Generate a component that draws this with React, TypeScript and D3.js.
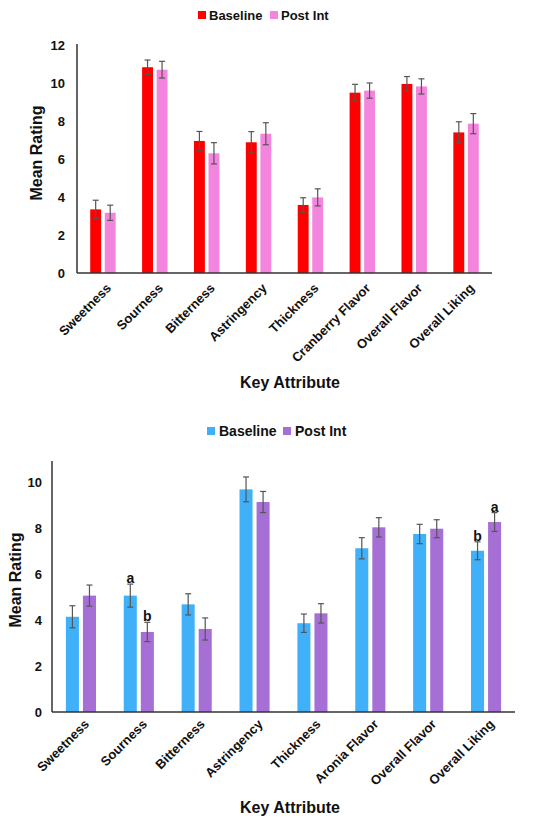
import * as d3 from "d3";

const topCategories = [
  "Sweetness",
  "Sourness",
  "Bitterness",
  "Astringency",
  "Thickness",
  "Cranberry Flavor",
  "Overall Flavor",
  "Overall Liking",
];
const topBaseline = [3.35, 10.83, 6.95, 6.88, 3.58, 9.49, 9.95, 7.4];
const topBaselineErr = [0.48, 0.38, 0.5, 0.56, 0.38, 0.44, 0.39, 0.56];
const topPost = [3.17, 10.7, 6.3, 7.33, 3.98, 9.6, 9.82, 7.86];
const topPostErr = [0.4, 0.44, 0.56, 0.58, 0.45, 0.4, 0.4, 0.53];
const topTicks = [0, 2, 4, 6, 8, 10, 12];

const bottomCategories = [
  "Sweetness",
  "Sourness",
  "Bitterness",
  "Astringency",
  "Thickness",
  "Aronia Flavor",
  "Overall Flavor",
  "Overall Liking",
];
const bottomBaseline = [4.14, 5.06, 4.68, 9.68, 3.86, 7.12, 7.74, 7.01];
const bottomBaselineErr = [0.48, 0.5, 0.46, 0.54, 0.4, 0.46, 0.42, 0.39];
const bottomPost = [5.06, 3.48, 3.61, 9.13, 4.29, 8.03, 7.97, 8.26];
const bottomPostErr = [0.46, 0.42, 0.48, 0.46, 0.42, 0.42, 0.39, 0.41];
const bottomBaselineLetters = ["", "a", "", "", "", "", "", "b"];
const bottomPostLetters = ["", "b", "", "", "", "", "", "a"];
const bottomTicks = [0, 2, 4, 6, 8, 10];

const seriesNames = ["Baseline", "Post Int"];

const FONT = "'Liberation Sans', Arial, Helvetica, sans-serif";

type PanelProps = {
  categories: string[];
  values: number[][];
  errors: number[][];
  letters?: string[][];
  colors: string[];
  ticks: number[];
  yMax: number;
  left: number;
  right: number;
  top: number;
  bottom: number;
  padding: number;
  innerPadding: number;
  tickLabelX: number;
  titleX: number;
  titleY: number;
  labelDy: number;
  keyY: number;
  legendY: number;
  legendX: number[];
  legendFont: number;
};

function Panel(p: PanelProps) {
  const x = d3
    .scaleBand<string>()
    .domain(p.categories)
    .range([p.left, p.right])
    .paddingInner(p.padding)
    .paddingOuter(p.padding / 2);
  const xs = d3
    .scaleBand<string>()
    .domain(seriesNames)
    .range([0, x.bandwidth()])
    .paddingInner(p.innerPadding);
  const y = d3.scaleLinear().domain([0, p.yMax]).range([p.bottom, p.top]);

  return (
    <g fontFamily={FONT} fontWeight="bold">
      {/* Legend */}
      {seriesNames.map((s, i) => (
        <g key={s}>
          <rect
            x={p.legendX[i * 2]}
            y={p.legendY - 4}
            width={8}
            height={8}
            fill={p.colors[i]}
          />
          <text
            x={p.legendX[i * 2 + 1]}
            y={p.legendY}
            dy="0.36em"
            fontSize={p.legendFont}
            fill="#111"
          >
            {s}
          </text>
        </g>
      ))}

      {/* Y ticks */}
      {p.ticks.map((t) => (
        <text
          key={t}
          x={p.tickLabelX}
          y={y(t)}
          dy="0.36em"
          textAnchor="end"
          fontSize={13}
          fill="#111"
        >
          {t}
        </text>
      ))}

      {/* Bars + error bars */}
      {p.categories.map((c, ci) =>
        seriesNames.map((s, si) => {
          const v = p.values[si][ci];
          const e = p.errors[si][ci];
          const bx = (x(c) ?? 0) + (xs(s) ?? 0);
          const cx = bx + xs.bandwidth() / 2;
          const letter = p.letters ? p.letters[si][ci] : "";
          return (
            <g key={c + s}>
              <rect
                x={bx}
                y={y(v)}
                width={xs.bandwidth()}
                height={y(0) - y(v)}
                fill={p.colors[si]}
              />
              <g stroke="#555" strokeWidth={1.2}>
                <line x1={cx} x2={cx} y1={y(v - e)} y2={y(v + e)} />
                <line x1={cx - 3} x2={cx + 3} y1={y(v + e)} y2={y(v + e)} />
                <line x1={cx - 3} x2={cx + 3} y1={y(v - e)} y2={y(v - e)} />
              </g>
              {letter && (
                <text
                  x={cx}
                  y={y(v + e) - 1}
                  textAnchor="middle"
                  fontSize={14}
                  fill="#111"
                >
                  {letter}
                </text>
              )}
            </g>
          );
        })
      )}

      {/* Axes */}
      <line
        x1={p.left}
        x2={p.left}
        y1={p.top - 1}
        y2={p.bottom}
        stroke="#333"
        strokeWidth={1.5}
      />
      <line
        x1={p.left}
        x2={p.right}
        y1={p.bottom}
        y2={p.bottom}
        stroke="#333"
        strokeWidth={1.5}
      />

      {/* X labels */}
      {p.categories.map((c) => {
        const cx = (x(c) ?? 0) + x.bandwidth() / 2 + 9;
        const cy = p.bottom + p.labelDy;
        return (
          <text
            key={c}
            transform={`translate(${cx},${cy}) rotate(-45)`}
            textAnchor="end"
            fontSize={13}
            fill="#111"
          >
            {c}
          </text>
        );
      })}

      {/* Titles */}
      <text
        transform={`translate(${p.titleX},${p.titleY}) rotate(-90)`}
        textAnchor="middle"
        fontSize={16}
        fill="#111"
      >
        Mean Rating
      </text>
      <text
        x={290}
        y={p.keyY}
        textAnchor="middle"
        fontSize={16}
        fill="#111"
      >
        Key Attribute
      </text>
    </g>
  );
}

export default function App() {
  return (
    <svg
      width={550}
      height={821}
      viewBox="0 0 550 821"
      style={{ position: "absolute", left: 0, top: 0, background: "#fff" }}
    >
      <rect width={550} height={821} fill="#fff" />
      <Panel
        categories={topCategories}
        values={[topBaseline, topPost]}
        errors={[topBaselineErr, topPostErr]}
        colors={["#ff0000", "#f485de"]}
        ticks={topTicks}
        yMax={12}
        left={77}
        right={492}
        top={45}
        bottom={273}
        padding={0.51}
        innerPadding={0.25}
        tickLabelX={65}
        titleX={42}
        titleY={153}
        labelDy={16}
        keyY={388}
        legendY={15}
        legendX={[198, 209, 270, 281]}
        legendFont={13}
      />
      <Panel
        categories={bottomCategories}
        values={[bottomBaseline, bottomPost]}
        errors={[bottomBaselineErr, bottomPostErr]}
        letters={[bottomBaselineLetters, bottomPostLetters]}
        colors={["#40b0f9", "#a66fd6"]}
        ticks={bottomTicks}
        yMax={10.87}
        left={52}
        right={515}
        top={462}
        bottom={712}
        padding={0.48}
        innerPadding={0.235}
        tickLabelX={42}
        titleX={21}
        titleY={580}
        labelDy={13}
        keyY={813}
        legendY={431}
        legendX={[207, 219, 283, 295]}
        legendFont={14}
      />
    </svg>
  );
}
